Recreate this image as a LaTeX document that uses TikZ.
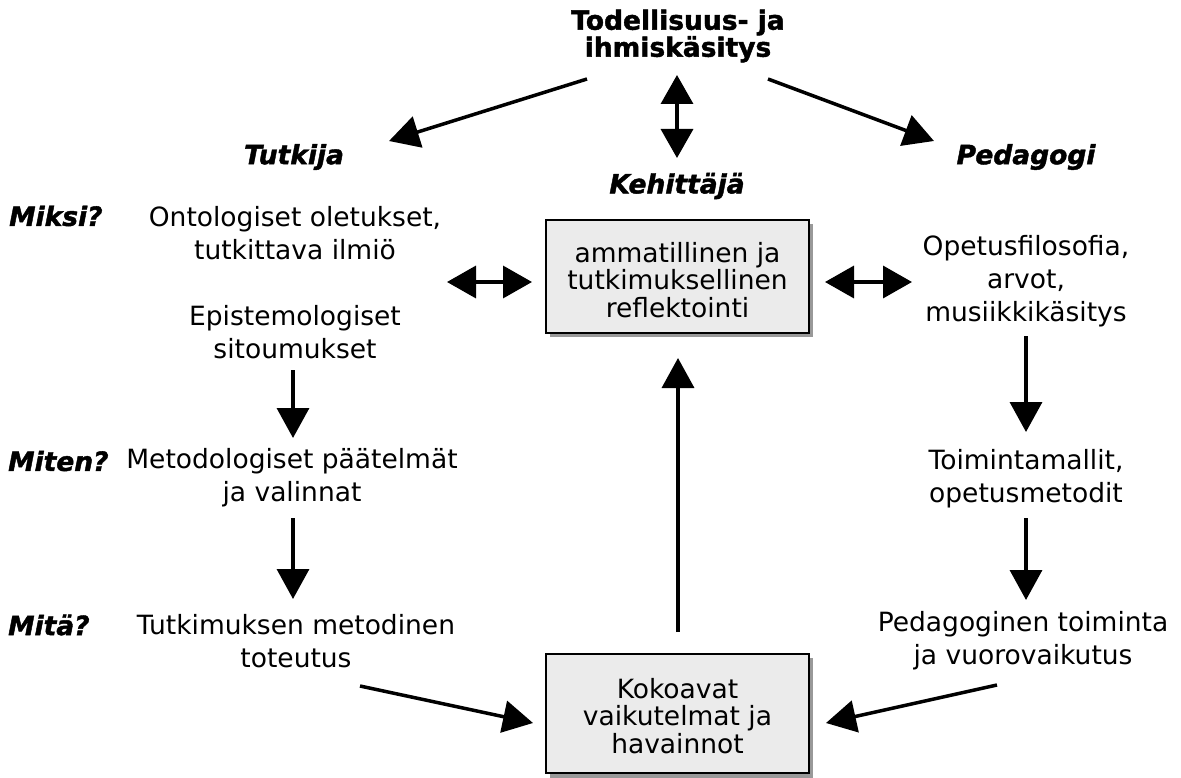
\documentclass[tikz,border=0pt]{standalone}
\usepackage{fontspec}
\setmainfont{DejaVu Sans}[BoldFeatures={FakeBold=1.6}, BoldItalicFeatures={FakeBold=1.6}]
\usetikzlibrary{arrows.meta}
\tikzset{
  txt/.style={align=center, inner sep=0pt, font=\fontsize{26.5}{33}\selectfont},
  ttl/.style={align=center, inner sep=0pt, font=\fontsize{26.5}{27}\selectfont\bfseries},
  role/.style={inner sep=0pt, font=\fontsize{26.5}{27}\selectfont\bfseries\itshape},
  boxtxt/.style={align=center, inner sep=0pt, font=\fontsize{26.5}{27.5}\selectfont},
  arr/.style={line width=3.5pt, -{Triangle[length=30pt,width=32pt]}},
  darr/.style={line width=3.5pt, {Triangle[length=29pt,width=32pt]}-{Triangle[length=29pt,width=32pt]}},
  panel/.style={draw=black, line width=1.5pt, fill=black!8},
  panelshadow/.style={fill=black!40, draw=none}
}
\begin{document}
\begin{tikzpicture}[x=1pt, y=-1pt]
\useasboundingbox (0,0) rectangle (1181,778);

% title and roles
\node[ttl] (title) at (678,36) {Todellisuus- ja\\ihmiskäsitys};
\node[role] (tutkija) at (294,157) {Tutkija};
\node[role] (kehittaja) at (677,186) {Kehittäjä};
\node[role] (pedagogi) at (1026,157) {Pedagogi};

% question labels
\node[role, anchor=west] (miksi) at (9,216) {Miksi?};
\node[role, anchor=west] (miten) at (8,461) {Miten?};
\node[role, anchor=west] (mita) at (8,625) {Mitä?};

% researcher column
\node[txt] (onto) at (295,233) {Ontologiset oletukset,\\tutkittava ilmiö};
\node[txt] (epi) at (295,332) {Epistemologiset\\sitoumukset};
\node[txt] (meto) at (292,478) {Metodologiset päätelmät\\ja valinnat};
\node[txt] (tote) at (296,641) {Tutkimuksen metodinen\\toteutus};

% pedagogue column
\node[txt] (opetus) at (1026,281) {Opetusfilosofia,\\arvot,\\musiikkikäsitys};
\node[txt] (toim) at (1026,479) {Toimintamallit,\\opetusmetodit};
\node[txt] (peda) at (1023,641) {Pedagoginen toiminta\\ja vuorovaikutus};

% central panels with drop shadows
\fill[panelshadow] (550,224) rectangle (813,337);
\node[panel, minimum width=263pt, minimum height=113pt, inner sep=0pt] (refl) at (677.5,276.5) {};
\node[boxtxt] (refltxt) at (677.5,280) {ammatillinen ja\\tutkimuksellinen\\reflektointi};

\fill[panelshadow] (550,658) rectangle (813,778);
\node[panel, minimum width=263pt, minimum height=119pt, inner sep=0pt] (koko) at (677.5,713.5) {};
\node[boxtxt] (kokotxt) at (677.5,716) {Kokoavat\\vaikutelmat ja\\havainnot};

% connector end points
\coordinate (t1) at (587,79);   \coordinate (t1e) at (389,141);
\coordinate (t2) at (768,79);   \coordinate (t2e) at (934,141);
\coordinate (v1) at (677,75);   \coordinate (v1e) at (677,158);
\coordinate (h1) at (447,282);  \coordinate (h1e) at (532,282);
\coordinate (h2) at (825,282);  \coordinate (h2e) at (912,282);
\coordinate (l1) at (293,370);  \coordinate (l1e) at (293,438);
\coordinate (l2) at (293,518);  \coordinate (l2e) at (293,599);
\coordinate (r1) at (1026,336); \coordinate (r1e) at (1026,432);
\coordinate (r2) at (1026,518); \coordinate (r2e) at (1026,600);
\coordinate (u1) at (678,632);  \coordinate (u1e) at (678,358);
\coordinate (b1) at (360,686);  \coordinate (b1e) at (533,723);
\coordinate (b2) at (997,685);  \coordinate (b2e) at (826,723);

% connectors
\draw[arr] (t1) -- (t1e);
\draw[arr] (t2) -- (t2e);
\draw[darr] (v1) -- (v1e);
\draw[darr] (h1) -- (h1e);
\draw[darr] (h2) -- (h2e);
\draw[arr] (l1) -- (l1e);
\draw[arr] (l2) -- (l2e);
\draw[arr] (r1) -- (r1e);
\draw[arr] (r2) -- (r2e);
\draw[arr] (u1) -- (u1e);
\draw[arr] (b1) -- (b1e);
\draw[arr] (b2) -- (b2e);
\end{tikzpicture}
\end{document}
